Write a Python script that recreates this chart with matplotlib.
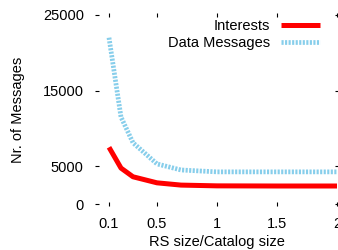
import matplotlib
matplotlib.use("Agg")
import matplotlib.pyplot as plt

plt.rcParams.update({'font.size': 10.5, 'font.family': 'Liberation Sans'})

# ratio of RS size to catalog size
ratio = [0.1, 0.2, 0.3, 0.5, 0.7, 1.0, 1.5, 2.0]
interests = [7500, 4750, 3600, 2800, 2500, 2400, 2380, 2380]
data_messages = [22000, 11500, 8100, 5300, 4500, 4250, 4250, 4250]

fig = plt.figure(figsize=(3.38, 2.5), dpi=100)
ax = fig.add_axes([97 / 338, 46 / 250, 240 / 338, 189 / 250])

ax.plot(ratio, interests, color='#ff0000', lw=3.6, label='Interests',
        solid_capstyle='butt')
ax.plot(ratio, data_messages, color='#87ceeb', lw=3.4, label='Data Messages',
        linestyle=(0, (0.45, 0.3)))

ax.set_xlim(0, 2)
ax.set_ylim(0, 25000)
ax.set_xticks([0.1, 0.5, 1, 1.5, 2])
ax.set_xticklabels(['0.1', '0.5', '1', '1.5', '2'])
ax.set_yticks([0, 5000, 15000, 25000])

for s in ax.spines.values():
    s.set_visible(False)
ax.tick_params(direction='inout', length=3, width=0.8, top=True, right=True,
               pad=8)

ax.set_xlabel('RS size/Catalog size', labelpad=3)
ax.set_ylabel('Nr. of Messages', labelpad=13)

ax.legend(loc='upper right', bbox_to_anchor=(320 / 338, 1 - 19 / 250),
          bbox_transform=fig.transFigure, frameon=False, markerfirst=False,
          handlelength=2.7, handletextpad=0.7, labelspacing=0.2,
          borderpad=0, borderaxespad=0)

fig.savefig('out.png', dpi=100)
